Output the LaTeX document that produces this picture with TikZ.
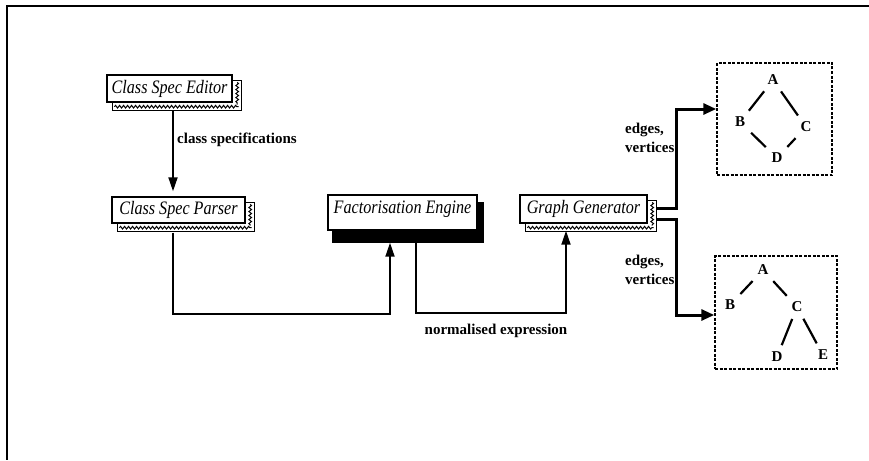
\documentclass[tikz,border=0pt]{standalone}
\usepackage{fontspec}
\setmainfont{Liberation Serif}
\newfontfamily\boxfont[FakeStretch=0.85]{Liberation Serif}
\usetikzlibrary{arrows.meta,decorations.pathmorphing,backgrounds}

% wavy drop shadow behind a module box
\newcommand\wavyshade[1]{%
  \begin{scope}[on background layer]
    \draw[line width=1pt,fill=white]
      ([xshift=6pt,yshift=-6pt]#1.north west) rectangle ([xshift=9pt,yshift=-8pt]#1.south east);
    \draw[wave] ([xshift=8pt,yshift=-4pt]#1.south west) -- ([xshift=6pt,yshift=-4pt]#1.south east);
    \draw[wave] ([xshift=4.5pt,yshift=-8pt]#1.north east) -- ([xshift=4.5pt,yshift=-2pt]#1.south east);
  \end{scope}}

\begin{document}
\begin{tikzpicture}[x=1pt,y=-1pt,
  module/.style={draw,line width=1.4pt,fill=white,inner sep=0pt,
    font=\boxfont\itshape\fontsize{19}{21}\selectfont},
  wave/.style={line width=1pt,decorate,
    decoration={snake,amplitude=1.3pt,segment length=4pt}},
  lbl/.style={font=\bfseries\fontsize{15}{19}\selectfont,inner sep=0pt},
  vert/.style={font=\bfseries\fontsize{15}{17}\selectfont,inner sep=3pt},
  conn/.style={line width=1.8pt,-{Triangle[length=14pt,width=9pt]}},
  bigconn/.style={line width=3pt,-{Triangle[length=13pt,width=11pt]}},
  gedge/.style={line width=2.2pt,shorten <=4pt,shorten >=4pt},
  graphbox/.style={draw,line width=1.5pt,dash pattern=on 3pt off 1.5pt,
    inner sep=0pt}]

\useasboundingbox (0,0) rectangle (869,460);

% frame
\draw[line width=2pt] (869,6) -- (7,6) -- (7,460);

% modules
\node[module,minimum width=125pt,minimum height=27pt] (editor) at (169.5,88.5) {Class Spec Editor};
\node[module,minimum width=133pt,minimum height=26pt] (parser) at (178.5,210) {Class Spec Parser};
\node[module,minimum width=149pt,minimum height=35pt,text depth=11pt] (factor) at (402.5,212.5) {Factorisation Engine};
\node[module,minimum width=127pt,minimum height=28pt] (gg) at (583.5,209) {Graph Generator};

\wavyshade{editor}
\wavyshade{parser}
\wavyshade{gg}
\begin{scope}[on background layer]
  \fill ([xshift=5pt,yshift=-8pt]factor.north west) rectangle ([xshift=6pt,yshift=-12pt]factor.south east);
\end{scope}

% output graphs
\node[graphbox,minimum width=115pt,minimum height=112pt] (g1) at (774.5,119) {};
\node[graphbox,minimum width=122pt,minimum height=113pt] (g2) at (776,312.5) {};

\node[vert] (a1) at (773,80) {A};
\node[vert] (b1) at (740,122) {B};
\node[vert] (c1) at (806,127) {C};
\node[vert] (d1) at (777,158) {D};
\draw[gedge] (a1) -- (b1);
\draw[gedge] (a1) -- (c1);
\draw[gedge] (b1) -- (d1);
\draw[gedge] (d1) -- (c1);

\node[vert] (a2) at (763,270) {A};
\node[vert] (b2) at (730,305) {B};
\node[vert] (c2) at (797,307) {C};
\node[vert] (d2) at (777,357) {D};
\node[vert] (e2) at (823,355) {E};
\draw[gedge] (a2) -- (b2);
\draw[gedge] (a2) -- (c2);
\draw[gedge] (c2) -- (d2);
\draw[gedge] (c2) -- (e2);

% connectors
\coordinate (eout) at ([xshift=3.5pt,yshift=-8pt]editor.south);
\coordinate (pout) at ([xshift=-5.5pt,yshift=-9pt]parser.south);
\coordinate (fin)  at ([xshift=-12.5pt,yshift=-12pt]factor.south);
\coordinate (fout) at ([xshift=13.5pt,yshift=-12pt]factor.south);
\coordinate (gin)  at ([xshift=-17.5pt,yshift=-7pt]gg.south);
\coordinate (go1)  at ([xshift=9pt,yshift=1pt]gg.east);
\coordinate (go2)  at ([xshift=9pt,yshift=-10pt]gg.east);

\draw[conn,shorten >=5pt] (eout) -- (eout |- parser.north);
\draw[conn] (pout) -- ++(0,81) -| (fin);
\draw[conn] (fout) -- ++(0,70.5) -| (gin);
\draw[bigconn] (go1) -- ++(19.5,0) |- ([yshift=10pt]g1.west);
\draw[bigconn] (go2) -- ++(19.5,0) |- ([yshift=-2.5pt]g2.west);

% labels
\node[lbl,anchor=west] (lspec) at (177,140) {class specifications};
\node[lbl] (lnorm) at (496,331) {normalised expression};
\node[lbl,anchor=north west,align=left] (ledge1) at (625,123) {edges,\\vertices};
\node[lbl,anchor=north west,align=left] (ledge2) at (625,255) {edges,\\vertices};

\end{tikzpicture}
\end{document}
